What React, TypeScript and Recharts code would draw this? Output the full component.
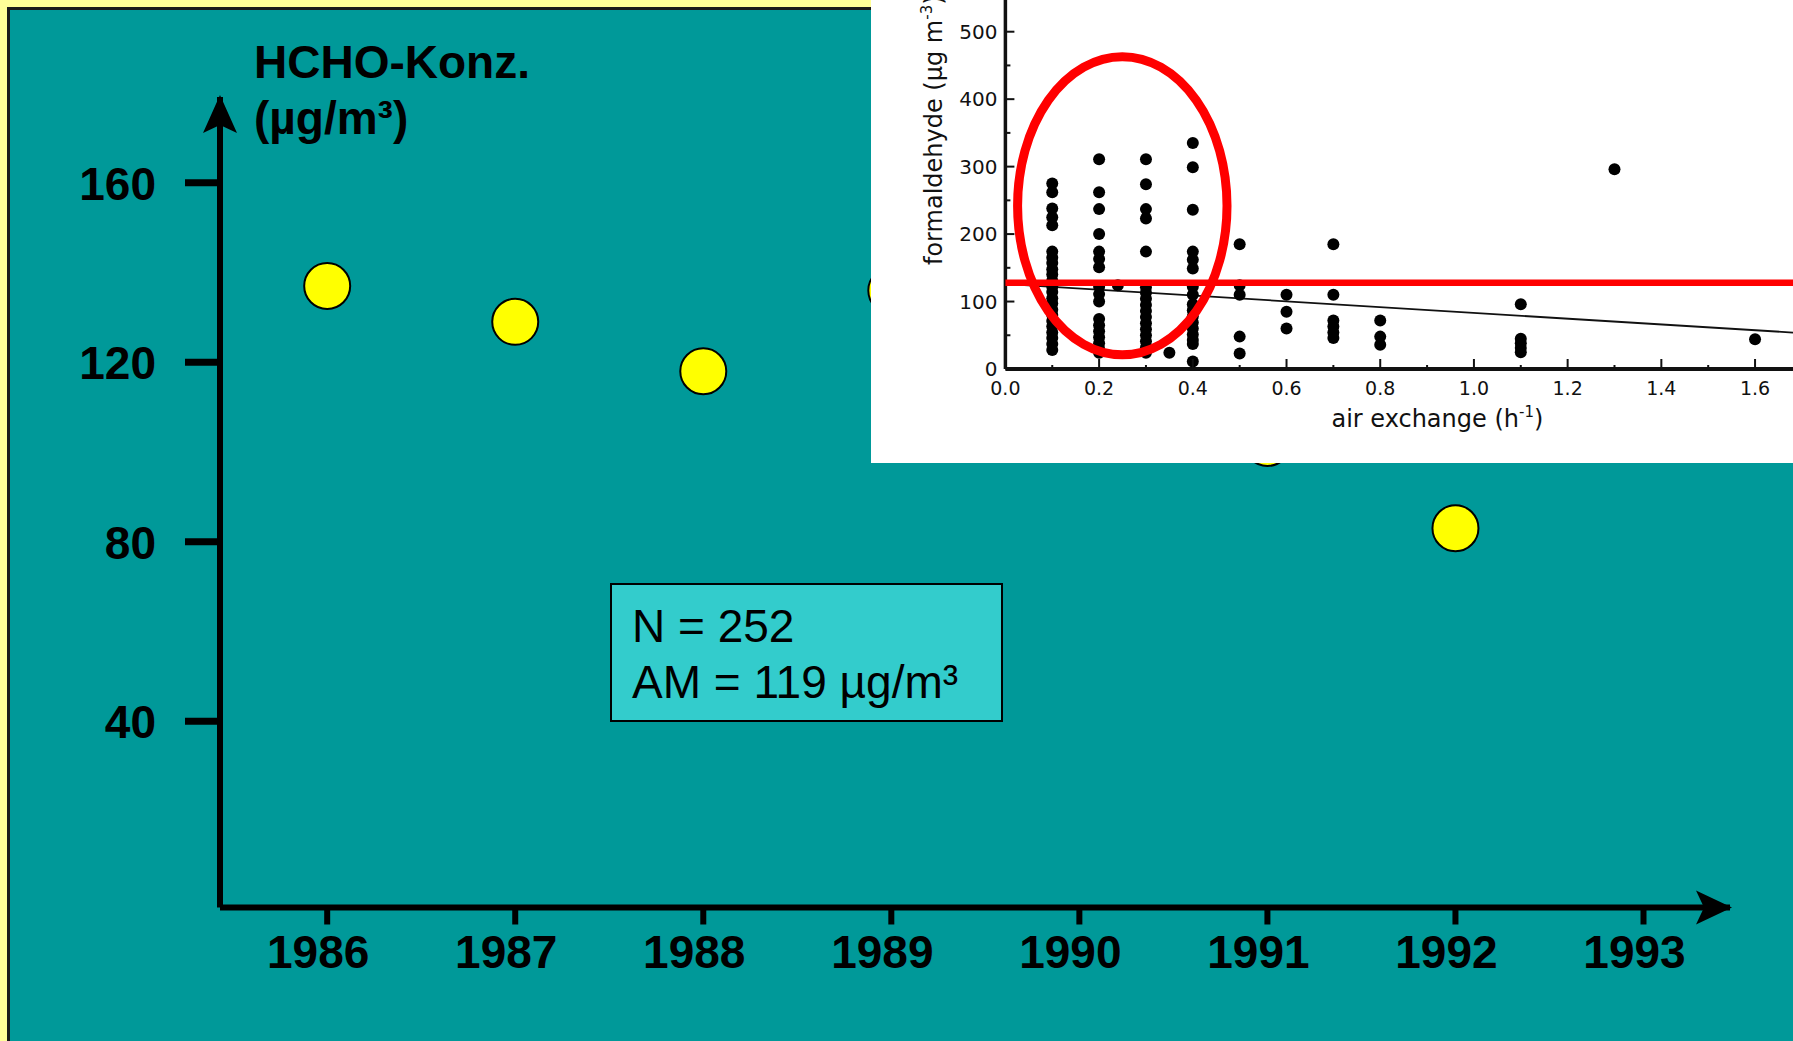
import {
  ReferenceArea,
  ReferenceLine,
  Scatter,
  ScatterChart,
  XAxis,
  YAxis,
} from "recharts";

// main chart: yearly HCHO means
const years = [1986, 1987, 1988, 1989, 1990, 1991, 1992];
const hchoMeans = [137, 129, 118, 136, 112, 102, 83];
const yearTicks = [1986, 1987, 1988, 1989, 1990, 1991, 1992, 1993];
const concTicks = [40, 80, 120, 160];

// inset scan: formaldehyde vs air exchange
const at01 = [275, 262, 238, 225, 213, 174, 165, 157, 148, 140, 131, 122, 114, 105, 97, 88, 80, 71, 63, 54, 46, 37, 28];
const at02 = [311, 262, 237, 200, 174, 163, 151, 122, 111, 100, 74, 65, 56, 47, 38, 30, 24];
const at024 = [124];
const at03 = [311, 274, 237, 223, 174, 121, 113, 104, 95, 86, 77, 68, 59, 50, 41, 32, 24];
const at035 = [24];
const at04 = [335, 299, 236, 174, 162, 149, 122, 110, 96, 87, 78, 69, 60, 51, 43, 37, 11];
const at05 = [185, 124, 110, 48, 23];
const at06 = [110, 85, 60];
const at07 = [185, 110, 72, 63, 54, 46];
const at08 = [72, 48, 36];
const at11 = [96, 45, 38, 31, 25];
const at13 = [296];
const at16 = [44];
const insetColumns: [number, number[]][] = [
  [0.1, at01], [0.2, at02], [0.24, at024], [0.3, at03], [0.35, at035], [0.4, at04],
  [0.5, at05], [0.6, at06], [0.7, at07], [0.8, at08], [1.1, at11], [1.3, at13], [1.6, at16],
];
const exchangeTicks = [0, 0.1, 0.2, 0.3, 0.4, 0.5, 0.6, 0.7, 0.8, 0.9, 1.0, 1.1, 1.2, 1.3, 1.4, 1.5, 1.6];
const formaldehydeTicks = [0, 50, 100, 150, 200, 250, 300, 350, 400, 450, 500];
const fitLine = [{ x: 0, y: 126 }, { x: 1.681, y: 54 }];
const guideValue = 128;
const circled = { x1: 0.026, x2: 0.473, y1: 21, y2: 463 };

const W = 1793;
const H = 1041;
const PLOT = { left: 220, top: 97, right: 1730, bottom: 907.5 };
const SANS = "Arial, 'Liberation Sans', sans-serif";
const SCAN = "'DejaVu Sans', sans-serif";

const mainData = years.map((year, i) => ({ year, conc: hchoMeans[i] }));
const insetData = insetColumns.flatMap(([x, ys]) => ys.map((y) => ({ x, y })));

function YellowDot(props: any) {
  const { cx, cy } = props;
  return <circle cx={cx} cy={cy} r={23} fill="#FFFF00" stroke="#000" strokeWidth={2} />;
}

function BlackDot(props: any) {
  const { cx, cy } = props;
  return <circle cx={cx} cy={cy} r={6} fill="#000" />;
}

function YearTick(props: any) {
  const { x, y, payload } = props;
  return (
    <g>
      <line x1={x} x2={x} y1={y} y2={y + 17} stroke="#000" strokeWidth={6} />
      <text x={x - 9} y={y + 60} textAnchor="middle" fontFamily={SANS} fontWeight="bold" fontSize={46} fill="#000">
        {payload.value}
      </text>
    </g>
  );
}

function ConcTick(props: any) {
  const { x, y, payload } = props;
  return (
    <g>
      <line x1={x - 35} x2={x} y1={y} y2={y} stroke="#000" strokeWidth={7} />
      <text x={x - 64} y={y + 17} textAnchor="end" fontFamily={SANS} fontWeight="bold" fontSize={46} fill="#000">
        {payload.value}
      </text>
    </g>
  );
}

function MainTitle(props: any) {
  const { viewBox } = props;
  const x = viewBox.x + viewBox.width + 34;
  const y = viewBox.y - 19;
  return (
    <text fontFamily={SANS} fontWeight="bold" fontSize={46} fill="#000">
      <tspan x={x} y={y}>HCHO-Konz.</tspan>
      <tspan x={x} y={y + 56}>(µg/m³)</tspan>
    </text>
  );
}

function ExchangeTick(props: any) {
  const { x, y, payload } = props;
  const major = Math.round(payload.value * 10) % 2 === 0;
  return (
    <g>
      <line x1={x} x2={x} y1={y} y2={y - (major ? 10 : 4)} stroke="#111" strokeWidth={2} />
      {major && (
        <text x={x} y={y + 26} textAnchor="middle" fontFamily={SCAN} fontSize={19} fill="#111">
          {payload.value.toFixed(1)}
        </text>
      )}
    </g>
  );
}

function FormaldehydeTick(props: any) {
  const { x, y, payload } = props;
  const major = payload.value % 100 === 0;
  return (
    <g>
      <line x1={x} x2={x + (major ? 9 : 5)} y1={y} y2={y} stroke="#111" strokeWidth={2} />
      {major && (
        <text x={x - 8} y={y + 7} textAnchor="end" fontFamily={SCAN} fontSize={20} fill="#111">
          {payload.value}
        </text>
      )}
    </g>
  );
}

function ExchangeLabel(props: any) {
  const { viewBox } = props;
  return (
    <text x={viewBox.x + 432} y={viewBox.y + 58} textAnchor="middle" fontFamily={SCAN} fontSize={24} fill="#111">
      air exchange (h
      <tspan fontSize={15} dy={-10}>-1</tspan>
      <tspan dy={10}>)</tspan>
    </text>
  );
}

function FormaldehydeLabel(props: any) {
  const { viewBox } = props;
  const x = viewBox.x + viewBox.width - 63;
  const y = viewBox.y + 265;
  return (
    <text x={x} y={y} transform={`rotate(-90, ${x}, ${y})`} fontFamily={SCAN} fontSize={24} fill="#111">
      formaldehyde (µg m
      <tspan fontSize={15} dy={-10}>-3</tspan>
      <tspan dy={10}>)</tspan>
    </text>
  );
}

function Ellipse(props: any) {
  const { x, y, width, height } = props;
  return (
    <ellipse
      cx={x + width / 2}
      cy={y + height / 2}
      rx={width / 2}
      ry={height / 2}
      fill="none"
      stroke="#FF0000"
      strokeWidth={9}
    />
  );
}

function InsetChart() {
  return (
    <div style={{ position: "absolute", left: 871, top: 0, width: 922, height: 463, background: "#fff" }}>
      <ScatterChart width={922} height={463} margin={{ top: 0, right: 0, bottom: 0, left: 0 }}>
        <XAxis
          type="number"
          dataKey="x"
          domain={[0, 1.681]}
          ticks={exchangeTicks}
          interval={0}
          allowDataOverflow
          height={94}
          tickSize={0}
          tickMargin={0}
          tickLine={false}
          tick={<ExchangeTick />}
          axisLine={{ stroke: "#111", strokeWidth: 4 }}
          label={<ExchangeLabel />}
        />
        <YAxis
          type="number"
          dataKey="y"
          domain={[0, 547]}
          ticks={formaldehydeTicks}
          interval={0}
          allowDataOverflow
          width={134.4}
          tickSize={0}
          tickMargin={0}
          tickLine={false}
          tick={<FormaldehydeTick />}
          axisLine={{ stroke: "#111", strokeWidth: 3.5 }}
          label={<FormaldehydeLabel />}
        />
        <ReferenceLine segment={fitLine} stroke="#111" strokeWidth={1.8} />
        <Scatter data={insetData} shape={BlackDot} isAnimationActive={false} />
        <ReferenceLine y={guideValue} stroke="#FF0000" strokeWidth={6.5} zIndex={1000} />
        <ReferenceArea {...circled} shape={Ellipse} zIndex={1000} />
      </ScatterChart>
    </div>
  );
}

export default function App() {
  const { left, top, right, bottom } = PLOT;
  return (
    <div style={{ position: "absolute", left: 0, top: 0, width: W, height: H, overflow: "hidden", background: "#FFFF99" }}>
      <div
        style={{
          position: "absolute",
          left: 7,
          top: 7,
          width: W,
          height: H,
          background: "#009999",
          borderLeft: "3px solid #1b1b1b",
          borderTop: "3px solid #1b1b1b",
        }}
      />
      <div style={{ position: "absolute", left: 0, top: 0 }}>
        <ScatterChart
          width={W}
          height={H}
          margin={{ top, right: W - right, bottom: H - bottom - 100, left: left - 200 }}
        >
          <XAxis
            type="number"
            dataKey="year"
            domain={[1985.43, 1993.46]}
            ticks={yearTicks}
            interval={0}
            allowDataOverflow
            height={100}
            tickSize={0}
            tickMargin={0}
            tickLine={false}
            tick={<YearTick />}
            axisLine={{ stroke: "#000", strokeWidth: 6 }}
          />
          <YAxis
            type="number"
            dataKey="conc"
            domain={[-1.5, 179.1]}
            ticks={concTicks}
            interval={0}
            allowDataOverflow
            width={200}
            tickSize={0}
            tickMargin={0}
            tickLine={false}
            tick={<ConcTick />}
            axisLine={{ stroke: "#000", strokeWidth: 6 }}
            label={<MainTitle />}
          />
          <Scatter data={mainData} shape={YellowDot} isAnimationActive={false} />
        </ScatterChart>
      </div>
      <svg width={W} height={H} style={{ position: "absolute", left: 0, top: 0 }}>
        <polygon
          points={`${left},${top - 2} ${left - 17},${top + 36} ${left},${top + 28} ${left + 17},${top + 36}`}
          fill="#000"
        />
        <polygon
          points={`${right + 2},${bottom} ${right - 34},${bottom - 17} ${right - 26},${bottom} ${right - 34},${bottom + 17}`}
          fill="#000"
        />
        <rect x={611} y={584} width={391} height={137} fill="#33CCCC" stroke="#000" strokeWidth={2} />
        <text fontFamily={SANS} fontSize={46} fill="#000">
          <tspan x={632} y={642}>N = 252</tspan>
          <tspan x={632} y={698}>AM = 119 µg/m³</tspan>
        </text>
      </svg>
      <InsetChart />
    </div>
  );
}
